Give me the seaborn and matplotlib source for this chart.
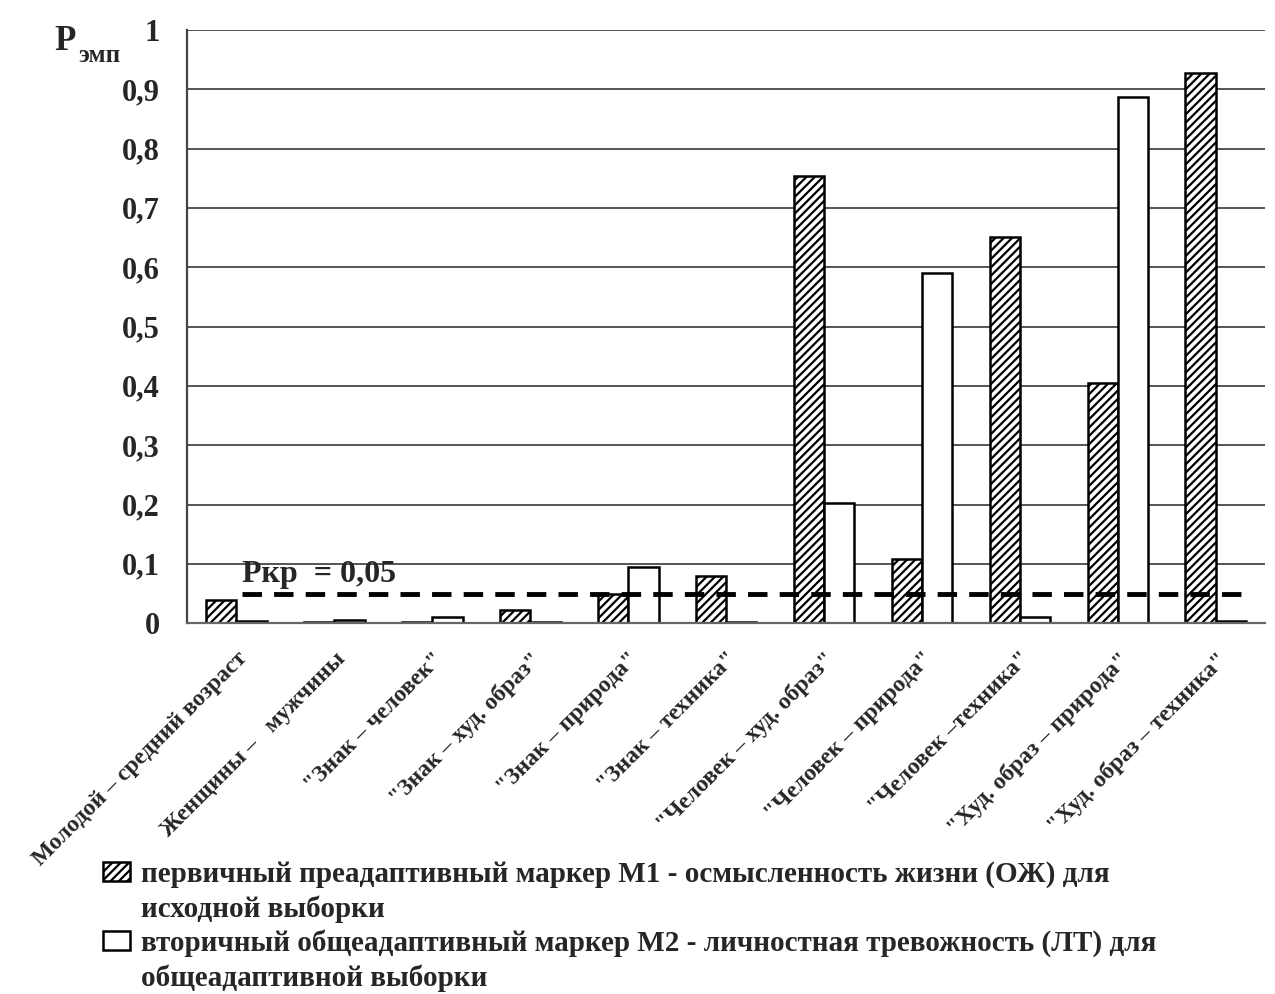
import matplotlib
matplotlib.use("Agg")
import matplotlib.pyplot as plt
import seaborn as sns
import pandas as pd
from matplotlib.patches import Patch

categories = [
    "Молодой – средний возраст",
    "Женщины –   мужчины",
    "\"Знак – человек\"",
    "\"Знак – худ. образ\"",
    "\"Знак – природа\"",
    "\"Знак – техника\"",
    "\"Человек – худ. образ\"",
    "\"Человек – природа\"",
    "\"Человек –техника\"",
    "\"Худ. образ – природа\"",
    "\"Худ. образ – техника\"",
]
m1_values = [0.039, 0.002, 0.002, 0.023, 0.050, 0.080, 0.754, 0.108, 0.651, 0.405, 0.927]
m2_values = [0.003, 0.006, 0.010, 0.002, 0.094, 0.002, 0.202, 0.590, 0.010, 0.887, 0.004]
series_first_lines = [
    "первичный преадаптивный маркер М1 - осмысленность жизни (ОЖ) для",
    "вторичный общеадаптивный маркер М2 - личностная тревожность (ЛТ) для",
]
series_second_lines = ["исходной выборки", "общеадаптивной выборки"]
y_ticks = [0, 0.1, 0.2, 0.3, 0.4, 0.5, 0.6, 0.7, 0.8, 0.9, 1.0]
y_tick_labels = ["0", "0,1", "0,2", "0,3", "0,4", "0,5", "0,6", "0,7", "0,8", "0,9", "1"]
threshold = 0.05
threshold_label = "Ркр  = 0,05"

df = pd.DataFrame({
    "cat": categories * 2,
    "val": m1_values + m2_values,
    "series": ["M1"] * len(categories) + ["M2"] * len(categories),
})

sns.set_theme(style="white")
plt.rcParams["font.family"] = ["Liberation Serif", "DejaVu Serif"]
plt.rcParams["font.weight"] = "bold"
plt.rcParams["hatch.linewidth"] = 1.6
plt.rcParams["hatch.color"] = "black"

fig = plt.figure(figsize=(12.75, 9.94), dpi=100)
ax = fig.add_axes([0.147, 0.373, 0.845, 0.597])

sns.barplot(data=df, x="cat", y="val", hue="series", order=categories,
            hue_order=["M1", "M2"], palette=["white", "white"],
            edgecolor="black", linewidth=1.8, width=0.62, gap=0,
            legend=False, ax=ax, saturation=1)

for bar in ax.containers[0]:
    bar.set_hatch("////")

ax.set_ylim(0, 1.0)
ax.set_xlim(-0.5, len(categories) - 0.5)
ax.set_yticks(y_ticks)
ax.set_yticklabels(y_tick_labels, fontsize=22, fontweight="bold")
ax.yaxis.grid(True, color="#555555", linewidth=1.4)
ax.set_axisbelow(True)
ax.tick_params(axis="y", length=0, pad=20)
ax.set_xlabel("")
ax.set_ylabel("")
ax.set_xticks(range(len(categories)))
ax.set_xticklabels(categories, rotation=45, ha="right", rotation_mode="anchor",
                   fontsize=17, fontweight="bold")
ax.tick_params(axis="x", length=0, pad=18)

for s in ["top", "right"]:
    ax.spines[s].set_visible(False)
ax.spines["left"].set_color("#444444")
ax.spines["left"].set_linewidth(1.6)
ax.spines["bottom"].set_color("#666666")
ax.spines["bottom"].set_linewidth(1.6)

ax.hlines(threshold, 0.06, len(categories) - 0.65, colors="black",
          linestyles=(0, (4, 2.5)), linewidth=3.5, zorder=5)
ax.text(0.06, threshold + 0.007, threshold_label, fontsize=23, fontweight="bold",
        ha="left", va="bottom")

fig.text(0.043, 0.9497, "P", fontsize=25, fontweight="bold", ha="left", va="baseline")
fig.text(0.0612, 0.956, "эмп", fontsize=18, fontweight="bold", ha="left", va="top")

handles = [
    Patch(facecolor="white", edgecolor="black", hatch="////", linewidth=1.8),
    Patch(facecolor="white", edgecolor="black", linewidth=1.8),
]
leg = fig.legend(handles, series_first_lines, loc="upper left",
                 bbox_to_anchor=(0.072, 1 - 849 / 994), frameon=False,
                 prop={"size": 21, "weight": "bold"}, handlelength=0.9, handleheight=0.62,
                 handletextpad=0.4, labelspacing=1.42, borderaxespad=0)
fig.canvas.draw()
renderer = fig.canvas.get_renderer()
inv = fig.transFigure.inverted()
for t, second in zip(leg.get_texts(), series_second_lines):
    bb = t.get_window_extent(renderer)
    x0, yc = inv.transform((bb.x0, (bb.y0 + bb.y1) / 2))
    fig.text(x0, yc - 35 / 994, second, fontsize=21, fontweight="bold",
             ha="left", va="center")

fig.savefig("out.png", dpi=100)
